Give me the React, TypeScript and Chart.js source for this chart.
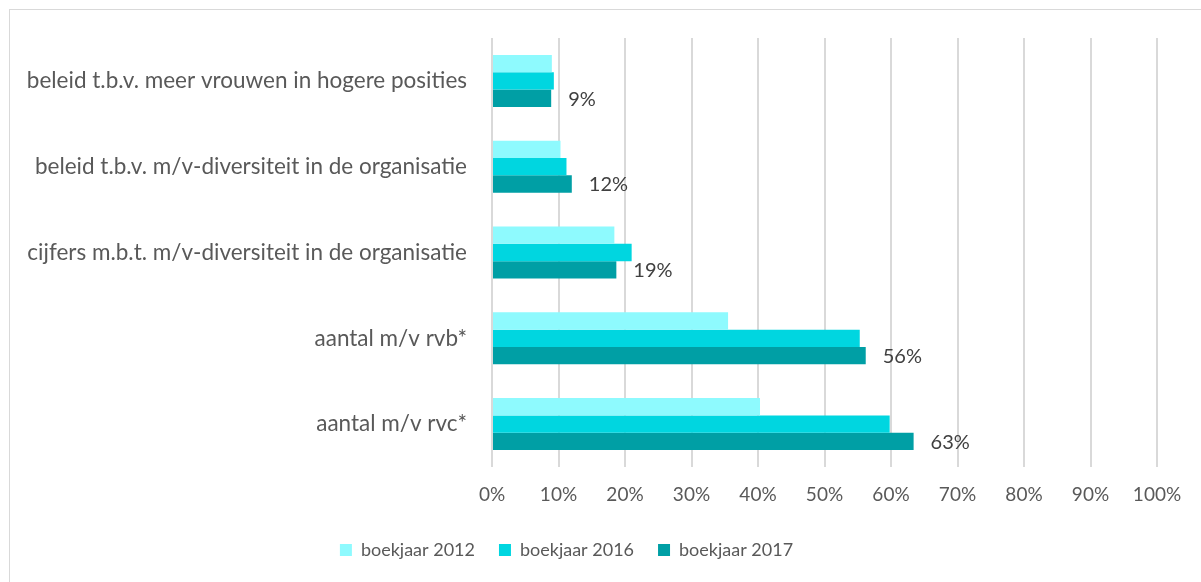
import React, { useEffect, useRef } from "react";
import { Chart, registerables } from "chart.js";

Chart.register(...registerables);

const categories = [
  "beleid t.b.v. meer vrouwen in hogere posities",
  "beleid t.b.v. m/v-diversiteit in de organisatie",
  "cijfers m.b.t. m/v-diversiteit in de organisatie",
  "aantal m/v rvb*",
  "aantal m/v rvc*",
];
const seriesNames = ["boekjaar 2012", "boekjaar 2016", "boekjaar 2017"];
const values2012 = [9.0, 10.3, 18.4, 35.5, 40.3];
const values2016 = [9.3, 11.2, 21.0, 55.3, 59.8];
const values2017 = [8.9, 12.0, 18.7, 56.2, 63.4];
const seriesColors = ["#8EFAFE", "#00D6E0", "#009FA5"];
const xTicks = [0, 10, 20, 30, 40, 50, 60, 70, 80, 90, 100];

const FONT = "Lato, 'Open Sans', sans-serif";

const labelPlugin = {
  id: "lastSeriesLabels",
  afterDatasetsDraw(chart: any) {
    const ctx = chart.ctx;
    const meta = chart.getDatasetMeta(2);
    const data = chart.data.datasets[2].data as number[];
    ctx.save();
    ctx.font = `20px ${FONT}`;
    ctx.fillStyle = "#404040";
    ctx.textAlign = "left";
    ctx.textBaseline = "middle";
    meta.data.forEach((bar: any, i: number) => {
      ctx.fillText(Math.round(data[i]) + "%", bar.x + 17, bar.y + 1);
    });
    ctx.restore();
  },
};

const legendShift = {
  id: "legendShift",
  afterLayout(chart: any) {
    if (chart.legend) {
      chart.legend.left -= 12;
      chart.legend.right -= 12;
    }
  },
};

export default function App() {
  const ref = useRef<HTMLCanvasElement | null>(null);
  useEffect(() => {
    if (!ref.current) return;
    const chart = new Chart(ref.current, {
      type: "bar",
      data: {
        labels: categories,
        datasets: [values2012, values2016, values2017].map((d, i) => ({
          label: seriesNames[i],
          data: d,
          backgroundColor: seriesColors[i],
          borderWidth: 0,
          categoryPercentage: 0.606,
          barPercentage: 1.0,
        })),
      },
      options: {
        indexAxis: "y",
        animation: false,
        responsive: false,
        devicePixelRatio: 1,
        layout: { padding: { top: 38, right: 44, bottom: 13, left: 0 } },
        plugins: {
          tooltip: { enabled: false },
          legend: {
            position: "bottom",
            labels: {
              boxWidth: 12,
              boxHeight: 12,
              padding: 24,
              color: "#595959",
              font: { family: FONT, size: 18 },
            },
          },
        },
        scales: {
          x: {
            min: 0,
            max: 100,
            afterBuildTicks(scale: any) {
              scale.ticks = xTicks.map((v) => ({ value: v }));
            },
            afterFit(scale: any) {
              scale.height = 50;
            },
            ticks: {
              padding: 16,
              color: "#595959",
              font: { family: FONT, size: 19 },
              callback: (v: any) => v + "%",
            },
            grid: { color: "#d9d9d9", lineWidth: 2, drawTicks: false },
            border: { display: false },
          },
          y: {
            afterFit(scale: any) {
              scale.width = 492;
            },
            ticks: {
              padding: 17,
              color: "#595959",
              font: { family: FONT, size: 22.5 },
            },
            grid: { display: false },
            border: { display: false },
          },
        },
      },
      plugins: [labelPlugin, legendShift],
    });
    return () => chart.destroy();
  }, []);

  return (
    <div
      style={{
        position: "fixed",
        left: 0,
        top: 0,
        width: 1201,
        height: 582,
        overflow: "hidden",
        background: "#fff",
      }}
    >
      <div
        style={{
          position: "absolute",
          left: 9,
          top: 9,
          width: 1300,
          height: 700,
          border: "1px solid #d9d9d9",
        }}
      />
      <canvas
        ref={ref}
        width={1201}
        height={582}
        style={{ position: "absolute", left: 0, top: 0, width: 1201, height: 582 }}
      />
    </div>
  );
}
